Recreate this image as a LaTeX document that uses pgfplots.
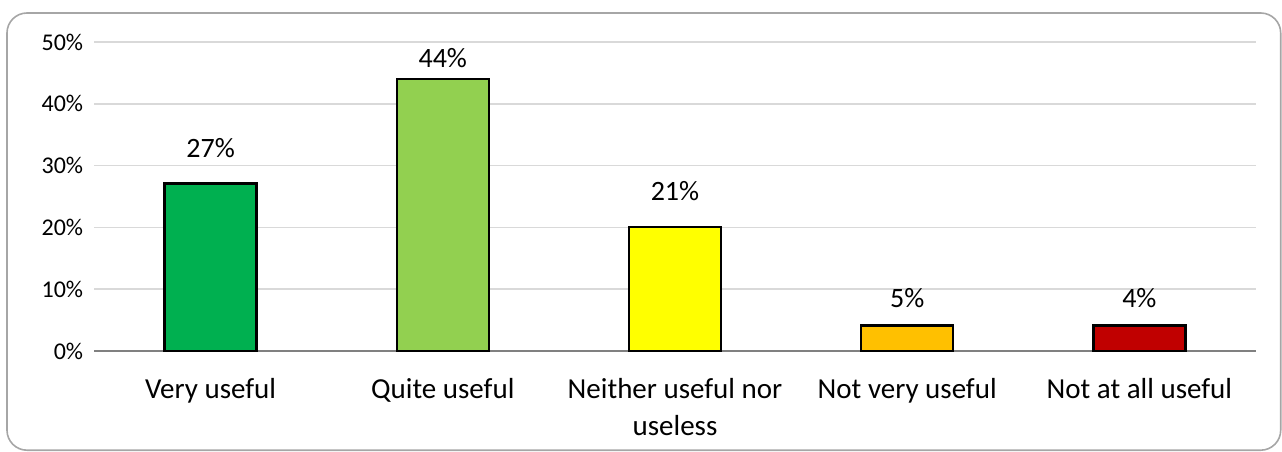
\documentclass[border=0pt]{standalone}
\usepackage{pgfplots}
\pgfplotsset{compat=1.18}
\usepackage{fontspec}
\setmainfont{Carlito}
\definecolor{c1}{HTML}{00B050}
\definecolor{c2}{HTML}{92D050}
\definecolor{c3}{HTML}{FFFF00}
\definecolor{c4}{HTML}{FFC000}
\definecolor{c5}{HTML}{C00000}
\definecolor{gridc}{HTML}{D9D9D9}
\definecolor{axc}{HTML}{808080}
\definecolor{framec}{HTML}{A6A6A6}
\begin{document}
\begin{tikzpicture}
\useasboundingbox (-47.25pt,-50pt) rectangle (593.75pt,175.5pt);
\draw[color=framec, line width=0.8pt, rounded corners=10pt] (-43.75pt,-49.6pt) rectangle (593.1pt,169pt);
\begin{axis}[
  at={(0pt,0pt)}, anchor=south west,
  scale only axis, width=580.5pt, height=154.5pt,
  xmin=-0.5, xmax=4.5, ymin=0, ymax=50,
  axis x line*=bottom, axis y line*=left,
  x axis line style={color=axc, line width=1pt},
  y axis line style={draw=none},
  ytick={0,10,...,50},
  yticklabel={\pgfmathprintnumber{\tick}\%},
  ymajorgrids, major grid style={color=gridc, line width=0.8pt},
  tick style={draw=none}, major tick length=0pt,
  xtick={0,1,2,3,4},
  xticklabels={Very useful, Quite useful, {Neither useful nor\\useless}, Not very useful, Not at all useful},
  xticklabel style={font=\fontsize{14.5}{18.5}\selectfont, align=center, anchor=north, inner sep=0pt, yshift=-13.5pt},
  yticklabel style={font=\fontsize{12}{14}\selectfont, anchor=east, inner sep=0pt, xshift=-5.5pt},
  /pgf/number format/assume math mode=true,
  ybar, bar width=46pt, bar shift=0pt,
  point meta=explicit,
  nodes near coords={\pgfmathprintnumber{\pgfplotspointmeta}\%},
  nodes near coords style={font=\fontsize{14}{17}\selectfont, anchor=center, inner sep=0pt, color=black},
  clip=false,
]
\addplot[fill=c1, draw=black, line width=1.2pt, every node near coord/.append style={yshift=17.5pt}] coordinates {(0,27.1) [27]};
\addplot[fill=c2, draw=black, line width=1.2pt, every node near coord/.append style={yshift=10.5pt}] coordinates {(1,44) [44]};
\addplot[fill=c3, draw=black, line width=1.2pt, every node near coord/.append style={yshift=18pt}] coordinates {(2,20.1) [21]};
\addplot[fill=c4, draw=black, line width=1.2pt, every node near coord/.append style={yshift=14pt}] coordinates {(3,4.1) [5]};
\addplot[fill=c5, draw=black, line width=1.2pt, every node near coord/.append style={yshift=14pt}] coordinates {(4,4.1) [4]};
\end{axis}
\end{tikzpicture}
\end{document}
